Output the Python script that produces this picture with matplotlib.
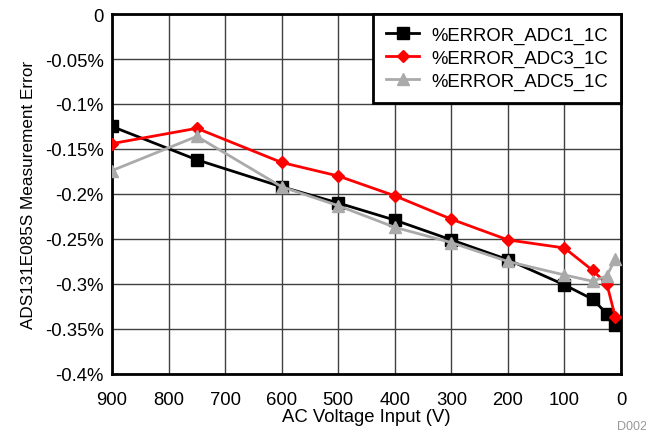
import matplotlib
matplotlib.use('Agg')
import matplotlib.pyplot as plt

plt.rcParams['font.family'] = ['Liberation Sans', 'DejaVu Sans']

volts = [900, 750, 600, 500, 400, 300, 200, 100, 50, 25, 10]
adc1 = [-0.125, -0.162, -0.192, -0.210, -0.229, -0.251, -0.273, -0.301, -0.317, -0.333, -0.346]
adc3 = [-0.144, -0.127, -0.165, -0.180, -0.202, -0.228, -0.251, -0.260, -0.285, -0.300, -0.337]
adc5 = [-0.174, -0.136, -0.192, -0.213, -0.237, -0.254, -0.275, -0.290, -0.297, -0.291, -0.272]

x_ticks = [900, 800, 700, 600, 500, 400, 300, 200, 100, 0]
y_ticks = [0, -0.05, -0.1, -0.15, -0.2, -0.25, -0.3, -0.35, -0.4]
y_labels = ['0', '-0.05%', '-0.1%', '-0.15%', '-0.2%', '-0.25%', '-0.3%', '-0.35%', '-0.4%']

fig = plt.figure(figsize=(6.46, 4.35), dpi=100)
ax = fig.add_axes([0.1734, 0.138, 0.7879, 0.8275])

ax.plot(volts, adc1, color='black', lw=2, marker='s', ms=9, label='%ERROR_ADC1_1C', zorder=3)
ax.plot(volts, adc3, color='#ff0000', lw=2, marker='D', ms=6.5, label='%ERROR_ADC3_1C', zorder=4)
ax.plot(volts, adc5, color='#aaaaaa', lw=2, marker='^', ms=8, label='%ERROR_ADC5_1C', zorder=5)

ax.set_xlim(900, 0)
ax.set_ylim(-0.4, 0)
ax.set_xticks(x_ticks)
ax.set_yticks(y_ticks)
ax.set_yticklabels(y_labels)
ax.tick_params(length=0, labelsize=13.3)
ax.tick_params(axis='y', pad=6)
ax.tick_params(axis='x', pad=12)
ax.grid(True, color='#404040', lw=1)
for s in ax.spines.values():
    s.set_linewidth(2)
    s.set_color('black')

ax.set_xlabel('AC Voltage Input (V)', fontsize=13.3, labelpad=0)
ax.set_ylabel('ADS131E085S Measurement Error', fontsize=12.3, labelpad=6)

leg = ax.legend(loc='upper right', borderaxespad=0, fontsize=13.3, fancybox=False,
                framealpha=1, edgecolor='black', handlelength=1.8, handletextpad=0.65,
                labelspacing=0.3, borderpad=0.7)
leg.get_frame().set_linewidth(2)

fig.text(617 / 646, 1 - 427 / 435, 'D002', fontsize=9, color='#999999', va='center')

fig.savefig('out.png', dpi=100)
